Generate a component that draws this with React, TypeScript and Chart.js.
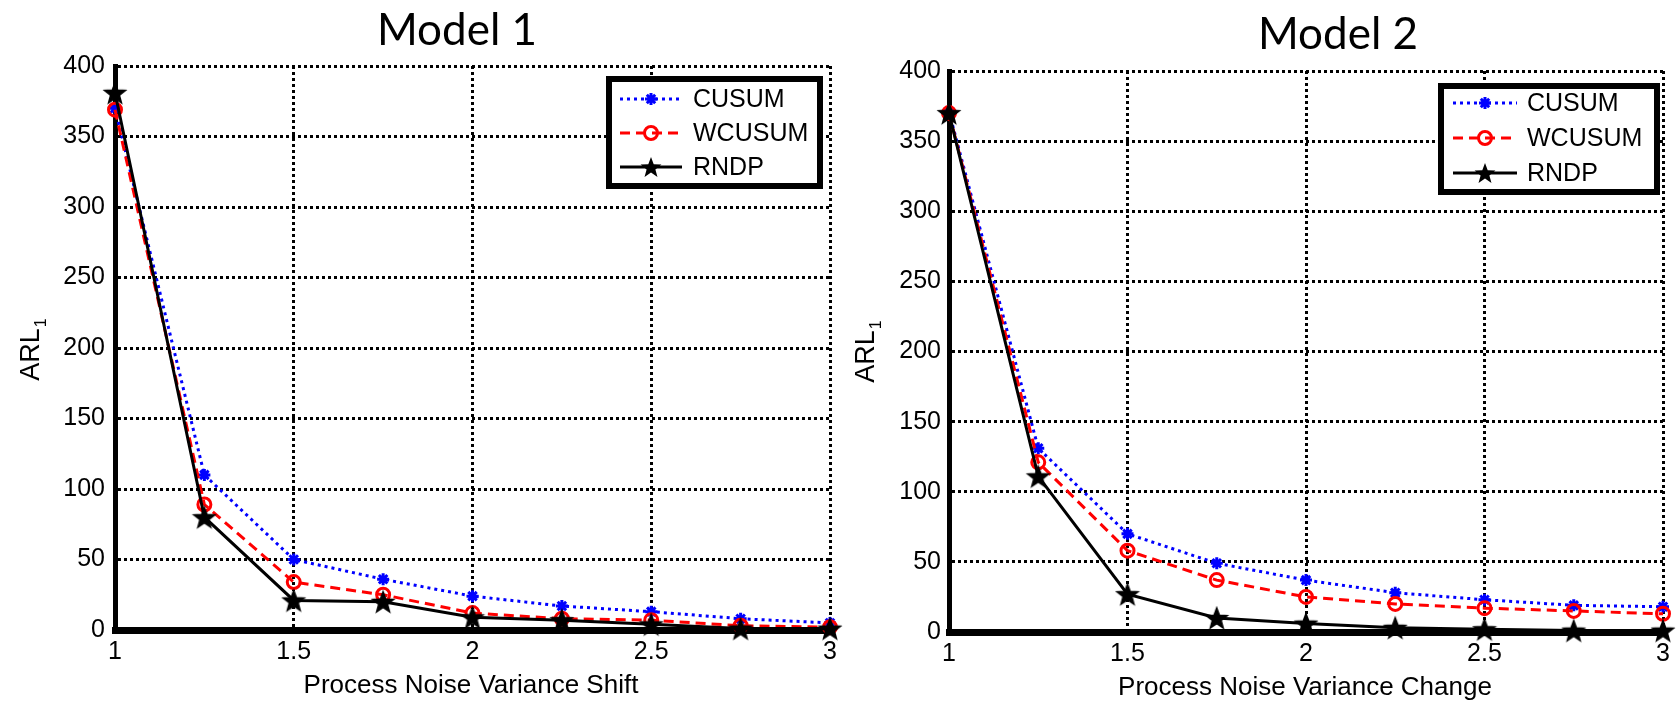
import React, { useEffect, useRef } from 'react';
import { Chart, registerables } from 'chart.js';

Chart.register(...registerables);

// ---------- data ----------
const X_VALUES = [1, 1.25, 1.5, 1.75, 2, 2.25, 2.5, 2.75, 3];
const X_TICKS = [1, 1.5, 2, 2.5, 3];
const X_TICK_LABELS = ['1', '1.5', '2', '2.5', '3'];
const Y_TICKS = [0, 50, 100, 150, 200, 250, 300, 350, 400];
const Y_TICK_LABELS = ['0', '50', '100', '150', '200', '250', '300', '350', '400'];

const SERIES_NAMES = ['CUSUM', 'WCUSUM', 'RNDP'];

const M1_CUSUM = [370, 110, 50, 36, 24, 17, 13, 8, 5];
const M1_WCUSUM = [369, 89, 34, 25, 12, 8, 7, 3, 2];
const M1_RNDP = [381, 80, 21, 20, 9, 7, 4, 1, 1];

const M2_CUSUM = [371, 131, 70, 49, 37, 28, 23, 19, 18];
const M2_WCUSUM = [370, 121, 58, 37, 25, 20, 17, 15, 13];
const M2_RNDP = [370, 111, 27, 10, 6, 3, 2, 1, 1];

const TITLES = ['Model 1', 'Model 2'];
const X_TITLES = ['Process Noise Variance Shift', 'Process Noise Variance Change'];
const Y_TITLE = 'ARL';
const Y_TITLE_SUB = '1';

// ---------- styles ----------
const SANS = '"Liberation Sans", Arial, sans-serif';
const TITLE_FONT = 'Lato, "Open Sans", sans-serif';
const BLUE = '#0000ff';
const RED = '#ff0000';
const BLACK = '#000000';

const DASH_DOT = [3, 4];
const DASH_DASH = [10, 6];

function pentagramPath(ctx: CanvasRenderingContext2D, cx: number, cy: number, r: number) {
  ctx.beginPath();
  for (let i = 0; i < 10; i++) {
    const rad = i % 2 === 0 ? r : r * 0.42;
    const a = -Math.PI / 2 + (i * Math.PI) / 5;
    const px = cx + rad * Math.cos(a);
    const py = cy + rad * Math.sin(a);
    if (i === 0) ctx.moveTo(px, py);
    else ctx.lineTo(px, py);
  }
  ctx.closePath();
}

function makeStarImage(r: number, color: string) {
  const c = document.createElement('canvas');
  const s = Math.ceil(r * 2 + 4);
  c.width = s;
  c.height = s;
  const ctx = c.getContext('2d')!;
  pentagramPath(ctx, s / 2, s / 2 + 1, r);
  ctx.fillStyle = color;
  ctx.fill();
  ctx.lineWidth = 1.5;
  ctx.strokeStyle = color;
  ctx.stroke();
  return c;
}

function drawMarker(ctx: CanvasRenderingContext2D, kind: number, x: number, y: number) {
  ctx.save();
  ctx.setLineDash([]);
  if (kind === 0) {
    ctx.strokeStyle = BLUE;
    ctx.lineWidth = 3;
    const r = 6;
    ctx.beginPath();
    ctx.moveTo(x - r, y); ctx.lineTo(x + r, y);
    ctx.moveTo(x, y - r); ctx.lineTo(x, y + r);
    const d = r * 0.7;
    ctx.moveTo(x - d, y - d); ctx.lineTo(x + d, y + d);
    ctx.moveTo(x - d, y + d); ctx.lineTo(x + d, y - d);
    ctx.stroke();
  } else if (kind === 1) {
    ctx.strokeStyle = RED;
    ctx.lineWidth = 3;
    ctx.beginPath();
    ctx.arc(x, y, 6.5, 0, Math.PI * 2);
    ctx.stroke();
  } else {
    pentagramPath(ctx, x, y + 1, 11);
    ctx.fillStyle = BLACK;
    ctx.fill();
  }
  ctx.restore();
}

type Geo = {
  W: number;
  H: number;
  left: number;
  right: number;
  top: number;
  bottom: number;
  yPad: number;
  title: { x: number; y: number };
  xTitle: { x: number; y: number };
  yTitle: { x: number; y: number };
  legend: { x0: number; y0: number; x1: number; y1: number; rows: number[]; l0: number; l1: number; tx: number };
};

const decorPlugin = {
  id: 'decor',
  afterDraw(chart: any, _args: any, opts: any) {
    const ctx: CanvasRenderingContext2D = chart.ctx;
    const g: Geo = opts.geo;
    ctx.save();
    // main title
    ctx.fillStyle = BLACK;
    ctx.font = `44px ${TITLE_FONT}`;
    ctx.textAlign = 'center';
    ctx.textBaseline = 'alphabetic';
    ctx.fillText(opts.title, g.title.x, g.title.y);
    // x title
    ctx.font = `26px ${SANS}`;
    ctx.textBaseline = 'middle';
    ctx.fillText(opts.xTitle, g.xTitle.x, g.xTitle.y);
    // y title
    ctx.save();
    ctx.translate(g.yTitle.x, g.yTitle.y);
    ctx.rotate(-Math.PI / 2);
    ctx.font = `27px ${SANS}`;
    const w = ctx.measureText(Y_TITLE).width;
    ctx.font = `16px ${SANS}`;
    const ws = ctx.measureText(Y_TITLE_SUB).width;
    const sx = -(w + ws) / 2;
    ctx.textAlign = 'left';
    ctx.font = `27px ${SANS}`;
    ctx.fillText(Y_TITLE, sx, 0);
    ctx.font = `16px ${SANS}`;
    ctx.fillText(Y_TITLE_SUB, sx + w + 1, 10);
    ctx.restore();

    // legend
    const L = g.legend;
    ctx.fillStyle = '#ffffff';
    ctx.fillRect(L.x0, L.y0, L.x1 - L.x0, L.y1 - L.y0);
    ctx.strokeStyle = BLACK;
    ctx.lineWidth = 6;
    ctx.setLineDash([]);
    ctx.strokeRect(L.x0 + 3, L.y0 + 3, L.x1 - L.x0 - 6, L.y1 - L.y0 - 6);
    const colors = [BLUE, RED, BLACK];
    const dashes = [DASH_DOT, DASH_DASH, []];
    SERIES_NAMES.forEach((name, i) => {
      const y = L.rows[i];
      ctx.save();
      ctx.strokeStyle = colors[i];
      ctx.lineWidth = 3;
      ctx.setLineDash(dashes[i]);
      ctx.beginPath();
      ctx.moveTo(L.l0, y);
      ctx.lineTo(L.l1, y);
      ctx.stroke();
      ctx.restore();
      drawMarker(ctx, i, (L.l0 + L.l1) / 2, y);
      ctx.fillStyle = BLACK;
      ctx.font = `25px ${SANS}`;
      ctx.textAlign = 'left';
      ctx.textBaseline = 'middle';
      ctx.fillText(name, L.tx, y + 1);
    });
    ctx.restore();
  },
};

function buildConfig(series: number[][], geo: Geo, title: string, xTitle: string) {
  const star = makeStarImage(11, BLACK);
  const pts = (arr: number[]) => X_VALUES.map((x, i) => ({ x, y: arr[i] }));
  return {
    type: 'line',
    data: {
      datasets: [
        {
          label: SERIES_NAMES[0],
          data: pts(series[0]),
          borderColor: BLUE,
          backgroundColor: BLUE,
          borderWidth: 3,
          borderDash: DASH_DOT,
          pointStyle: 'star',
          pointRadius: 6,
          pointBorderWidth: 3,
          pointBorderColor: BLUE,
          clip: false,
          tension: 0,
          order: 3,
        },
        {
          label: SERIES_NAMES[1],
          data: pts(series[1]),
          borderColor: RED,
          backgroundColor: 'rgba(0,0,0,0)',
          borderWidth: 3,
          borderDash: DASH_DASH,
          pointStyle: 'circle',
          pointRadius: 6.5,
          pointBorderWidth: 3,
          pointBorderColor: RED,
          pointBackgroundColor: 'rgba(0,0,0,0)',
          clip: false,
          tension: 0,
          order: 2,
        },
        {
          label: SERIES_NAMES[2],
          data: pts(series[2]),
          borderColor: BLACK,
          backgroundColor: BLACK,
          borderWidth: 3,
          pointStyle: star,
          pointRadius: 11,
          clip: false,
          tension: 0,
          order: 1,
        },
      ],
    },
    options: {
      responsive: false,
      animation: false,
      devicePixelRatio: 1,
      layout: {
        padding: { left: 0, top: geo.top, right: geo.W - geo.right, bottom: 0 },
      },
      plugins: {
        legend: { display: false },
        title: { display: false },
        tooltip: { enabled: false },
        decor: { geo, title, xTitle },
      },
      scales: {
        x: {
          type: 'linear',
          min: 1,
          max: 3,
          afterBuildTicks: (s: any) => {
            s.ticks = X_TICKS.map((v) => ({ value: v }));
          },
          afterFit: (s: any) => {
            s.height = geo.H - geo.bottom;
          },
          ticks: {
            callback: (_v: any, i: number) => X_TICK_LABELS[i],
            font: { family: SANS, size: 25 },
            color: BLACK,
            padding: 7,
            maxRotation: 0,
            autoSkip: false,
          },
          grid: { color: BLACK, lineWidth: 3, drawTicks: false },
          border: { display: true, color: BLACK, width: 7, dash: [3, 3] },
        },
        y: {
          type: 'linear',
          min: 0,
          max: 400,
          afterBuildTicks: (s: any) => {
            s.ticks = Y_TICKS.map((v) => ({ value: v }));
          },
          afterFit: (s: any) => {
            s.width = geo.left;
          },
          ticks: {
            callback: (_v: any, i: number) => Y_TICK_LABELS[i],
            font: { family: SANS, size: 25 },
            color: BLACK,
            padding: geo.yPad,
            autoSkip: false,
          },
          grid: { color: BLACK, lineWidth: 3, drawTicks: false },
          border: { display: true, color: BLACK, width: 5, dash: [3, 3] },
        },
      },
    },
    plugins: [decorPlugin],
  } as any;
}

const GEO_LEFT: Geo = {
  W: 850,
  H: 706,
  left: 115,
  right: 830,
  top: 66,
  bottom: 630,
  yPad: 10,
  title: { x: 457, y: 45 },
  xTitle: { x: 471, y: 686 },
  yTitle: { x: 32, y: 350 },
  legend: { x0: 606, y0: 76, x1: 823, y1: 189, rows: [99, 133, 167], l0: 620, l1: 682, tx: 693 },
};

const OFF = 850;
const GEO_RIGHT: Geo = {
  W: 827,
  H: 706,
  left: 949 - OFF,
  right: 1665 - OFF,
  top: 71,
  bottom: 632,
  yPad: 8,
  title: { x: 1338 - OFF, y: 49 },
  xTitle: { x: 1305 - OFF, y: 688 },
  yTitle: { x: 867 - OFF, y: 352 },
  legend: {
    x0: 1438 - OFF,
    y0: 83,
    x1: 1660 - OFF,
    y1: 195,
    rows: [103, 138, 173],
    l0: 1453 - OFF,
    l1: 1517 - OFF,
    tx: 1527 - OFF,
  },
};

function ChartPanel(props: { series: number[][]; geo: Geo; title: string; xTitle: string; x: number }) {
  const ref = useRef<HTMLCanvasElement>(null);
  useEffect(() => {
    const chart = new Chart(ref.current as HTMLCanvasElement, buildConfig(props.series, props.geo, props.title, props.xTitle));
    return () => chart.destroy();
  }, []);
  return (
    <div style={{ position: 'absolute', left: props.x, top: 0, width: props.geo.W, height: props.geo.H }}>
      <canvas
        ref={ref}
        width={props.geo.W}
        height={props.geo.H}
        style={{ width: props.geo.W, height: props.geo.H, display: 'block' }}
      />
    </div>
  );
}

export default function App() {
  return (
    <div style={{ position: 'fixed', left: 0, top: 0, width: 1677, height: 706, background: '#ffffff', overflow: 'hidden' }}>
      <ChartPanel series={[M1_CUSUM, M1_WCUSUM, M1_RNDP]} geo={GEO_LEFT} title={TITLES[0]} xTitle={X_TITLES[0]} x={0} />
      <ChartPanel series={[M2_CUSUM, M2_WCUSUM, M2_RNDP]} geo={GEO_RIGHT} title={TITLES[1]} xTitle={X_TITLES[1]} x={OFF} />
    </div>
  );
}
